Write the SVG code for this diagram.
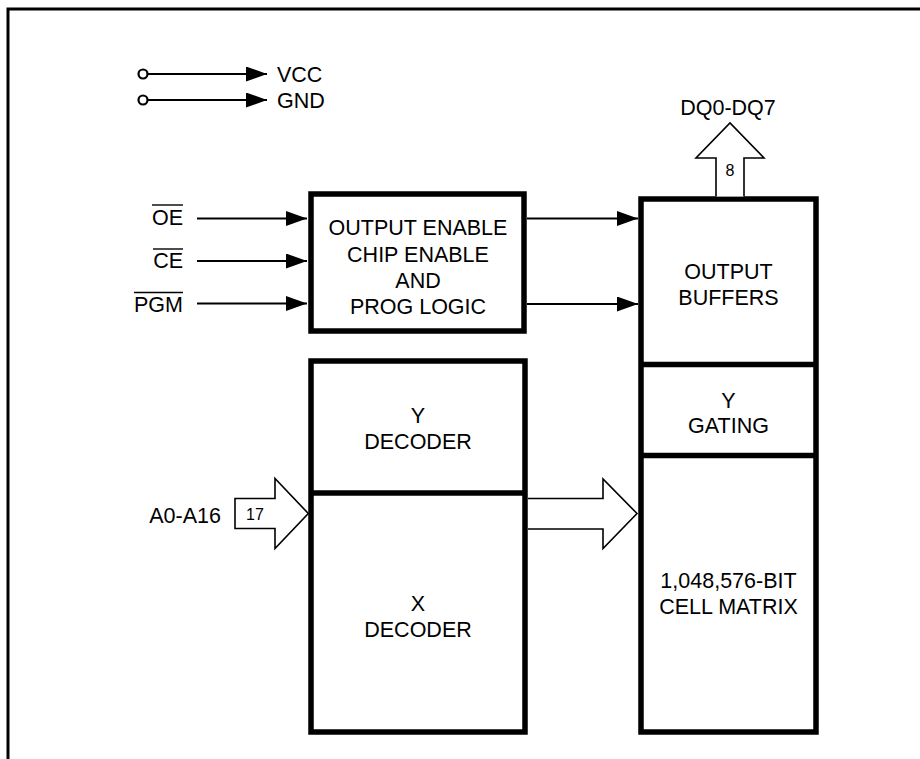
<svg xmlns="http://www.w3.org/2000/svg" width="920" height="759" viewBox="0 0 920 759">
<style>
text{font-family:"Liberation Sans",Arial,sans-serif;font-size:21.5px;fill:#000}
.c{text-anchor:middle}
.r{text-anchor:end}
.sm{font-size:16px}
.box{fill:#fff;stroke:#000;stroke-width:5.5}
.div{stroke:#000;stroke-width:5.5}
.wire{stroke:#000;stroke-width:2;fill:none}
.bus{fill:#fff;stroke:#000;stroke-width:1.6;stroke-linejoin:miter}
.ov{stroke:#000;stroke-width:1.4}
</style>
<defs>
<marker id="ah" markerUnits="userSpaceOnUse" markerWidth="22" markerHeight="16" refX="21" refY="7.5" orient="auto">
<path d="M0,0 L21,7.5 L0,15 Z" fill="#000"/>
</marker>
</defs>
<rect width="920" height="759" fill="#fff"/>
<g id="frame">
<path d="M8,759 V9 H920" fill="none" stroke="#000" stroke-width="3"/>
</g>
<g id="power">
<circle cx="143" cy="74" r="4.5" fill="#fff" stroke="#000" stroke-width="2.2"/>
<circle cx="143" cy="100" r="4.5" fill="#fff" stroke="#000" stroke-width="2.2"/>
<text x="277" y="82">VCC</text>
<text x="277" y="108">GND</text>
</g>
<g id="inputs">
<text class="r" x="183" y="225">OE</text>
<line class="ov" x1="152" y1="205" x2="183" y2="205"/>
<text class="r" x="183" y="268">CE</text>
<line class="ov" x1="153" y1="249" x2="183" y2="249"/>
<text class="r" x="183" y="312">PGM</text>
<line class="ov" x1="134" y1="292.5" x2="183" y2="292.5"/>
</g>
<g id="logic">
<rect class="box" x="311" y="194" width="213" height="137"/>
<text class="c" x="418" y="235">OUTPUT ENABLE</text>
<text class="c" x="418" y="261.5">CHIP ENABLE</text>
<text class="c" x="418" y="288">AND</text>
<text class="c" x="418" y="313.5">PROG LOGIC</text>
</g>
<g id="decoders">
<rect class="box" x="311" y="361" width="214" height="371"/>
<line class="div" x1="311" y1="493" x2="525" y2="493"/>
<text class="c" x="418" y="423">Y</text>
<text class="c" x="418" y="449">DECODER</text>
<text class="c" x="418" y="611">X</text>
<text class="c" x="418" y="637">DECODER</text>
</g>
<g id="memory">
<rect class="box" x="641" y="199" width="175" height="533"/>
<line class="div" x1="641" y1="364.5" x2="816" y2="364.5"/>
<line class="div" x1="641" y1="455.5" x2="816" y2="455.5"/>
<text class="c" x="728.5" y="279">OUTPUT</text>
<text class="c" x="728.5" y="305">BUFFERS</text>
<text class="c" x="728.5" y="408">Y</text>
<text class="c" x="728.5" y="433">GATING</text>
<text class="c" x="728.5" y="588">1,048,576-BIT</text>
<text class="c" x="728.5" y="614">CELL MATRIX</text>
</g>
<g id="connectors">
<line class="wire" x1="147.5" y1="74" x2="267" y2="74" marker-end="url(#ah)"/>
<line class="wire" x1="147.5" y1="100" x2="267" y2="100" marker-end="url(#ah)"/>
<line class="wire" x1="197" y1="218.5" x2="307" y2="218.5" marker-end="url(#ah)"/>
<line class="wire" x1="197" y1="261" x2="307" y2="261" marker-end="url(#ah)"/>
<line class="wire" x1="197" y1="303.5" x2="307" y2="303.5" marker-end="url(#ah)"/>
<line class="wire" x1="527" y1="218.5" x2="638" y2="218.5" marker-end="url(#ah)"/>
<line class="wire" x1="527" y1="304" x2="638" y2="304" marker-end="url(#ah)"/>
<path class="bus" d="M716,196.5 V158 H696 L730,123 L764,158 H744 V196.5"/>
<text class="c sm" x="730" y="176">8</text>
<path class="bus" d="M235,498.5 H275 V478.5 L308.3,513.5 L275,548.5 V528.5 H235 Z"/>
<text class="c sm" x="255" y="520">17</text>
<text class="r" x="221" y="523">A0-A16</text>
<path class="bus" d="M528,498.5 H603 V479 L637,513.5 L603,548.5 V529 H528"/>
<text class="c" x="728" y="115">DQ0-DQ7</text>
</g>
</svg>
